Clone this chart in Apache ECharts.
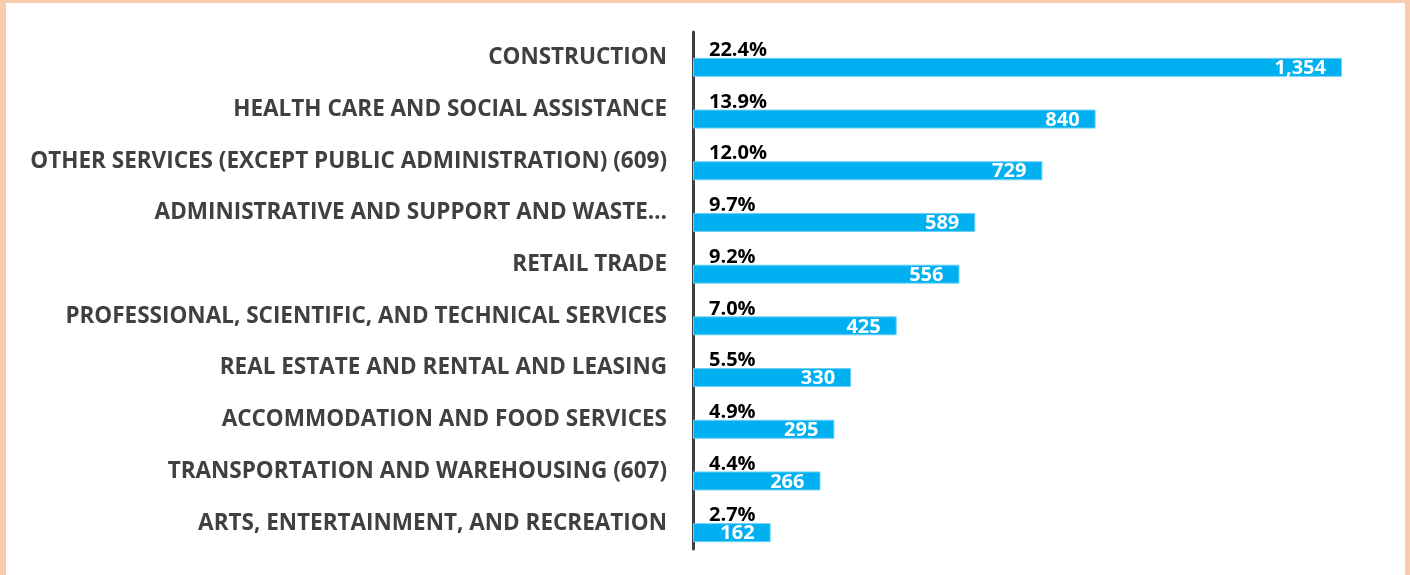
<!DOCTYPE html>
<html>
<head>
<meta charset="utf-8">
<script src="https://cdn.jsdelivr.net/npm/echarts@6/dist/echarts.min.js"></script>
<style>
  html, body { margin: 0; padding: 0; background: #ffffff; }
  #wrap { position: relative; width: 1410px; height: 575px; overflow: hidden; }
  #chart { position: absolute; left: 0; top: 0; width: 1410px; height: 575px; }
  #frame { position: absolute; left: 0; top: 0; width: 1410px; height: 575px; box-sizing: border-box;
           border-top: 3px solid #F8CBAD; border-left: 6px solid #F8CBAD; border-right: 5px solid #F8CBAD;
           pointer-events: none; }
</style>
</head>
<body>
<div id="wrap">
  <div id="chart"></div>
  <div id="frame"></div>
</div>
<script>
const categories = [
  "CONSTRUCTION",
  "HEALTH CARE AND SOCIAL ASSISTANCE",
  "OTHER SERVICES (EXCEPT PUBLIC ADMINISTRATION) (609)",
  "ADMINISTRATIVE AND SUPPORT AND WASTE…",
  "RETAIL TRADE",
  "PROFESSIONAL, SCIENTIFIC, AND TECHNICAL SERVICES",
  "REAL ESTATE AND RENTAL AND LEASING",
  "ACCOMMODATION AND FOOD SERVICES",
  "TRANSPORTATION AND WAREHOUSING (607)",
  "ARTS, ENTERTAINMENT, AND RECREATION"
];
const counts = [1354, 840, 729, 589, 556, 425, 330, 295, 266, 162];
const shares = [22.4, 13.9, 12.0, 9.7, 9.2, 7.0, 5.5, 4.9, 4.4, 2.7];

const FONT = '"Open Sans", "Noto Sans", sans-serif';
const chart = echarts.init(document.getElementById('chart'), null, { renderer: 'canvas' });
chart.setOption({
  animation: false,
  backgroundColor: '#ffffff',
  grid: { left: 693, right: 46, top: 32, bottom: 26, containLabel: false },
  xAxis: {
    type: 'value', min: 0, max: 1400,
    show: false, splitLine: { show: false }
  },
  yAxis: {
    type: 'category', data: categories, inverse: true,
    axisLine: { show: true, lineStyle: { color: '#404040', width: 3 } },
    axisTick: { show: false },
    axisLabel: {
      margin: 26, color: '#404040', fontFamily: FONT, fontWeight: 'bold', fontSize: 22.5
    }
  },
  series: [
    {
      name: 'Share', type: 'bar', data: shares, barWidth: 19, barGap: '0%',
      itemStyle: { color: 'rgba(0,0,0,0)' },
      label: {
        show: true, position: 'insideLeft', distance: 16, offset: [0, 2],
        color: '#000000', fontFamily: FONT, fontWeight: 'bold', fontSize: 20,
        formatter: p => p.value.toFixed(1) + '%'
      },
      silent: true
    },
    {
      name: 'Count', type: 'bar', data: counts, barWidth: 19, barGap: '0%',
      itemStyle: { color: '#00B0F0', borderColor: '#6FD0F5', borderWidth: 1 },
      label: {
        show: true, position: 'insideRight', distance: 16, offset: [0, 1],
        color: '#ffffff', fontFamily: FONT, fontWeight: 'bold', fontSize: 20,
        formatter: p => p.value.toLocaleString('en-US')
      }
    }
  ]
});
</script>
</body>
</html>
